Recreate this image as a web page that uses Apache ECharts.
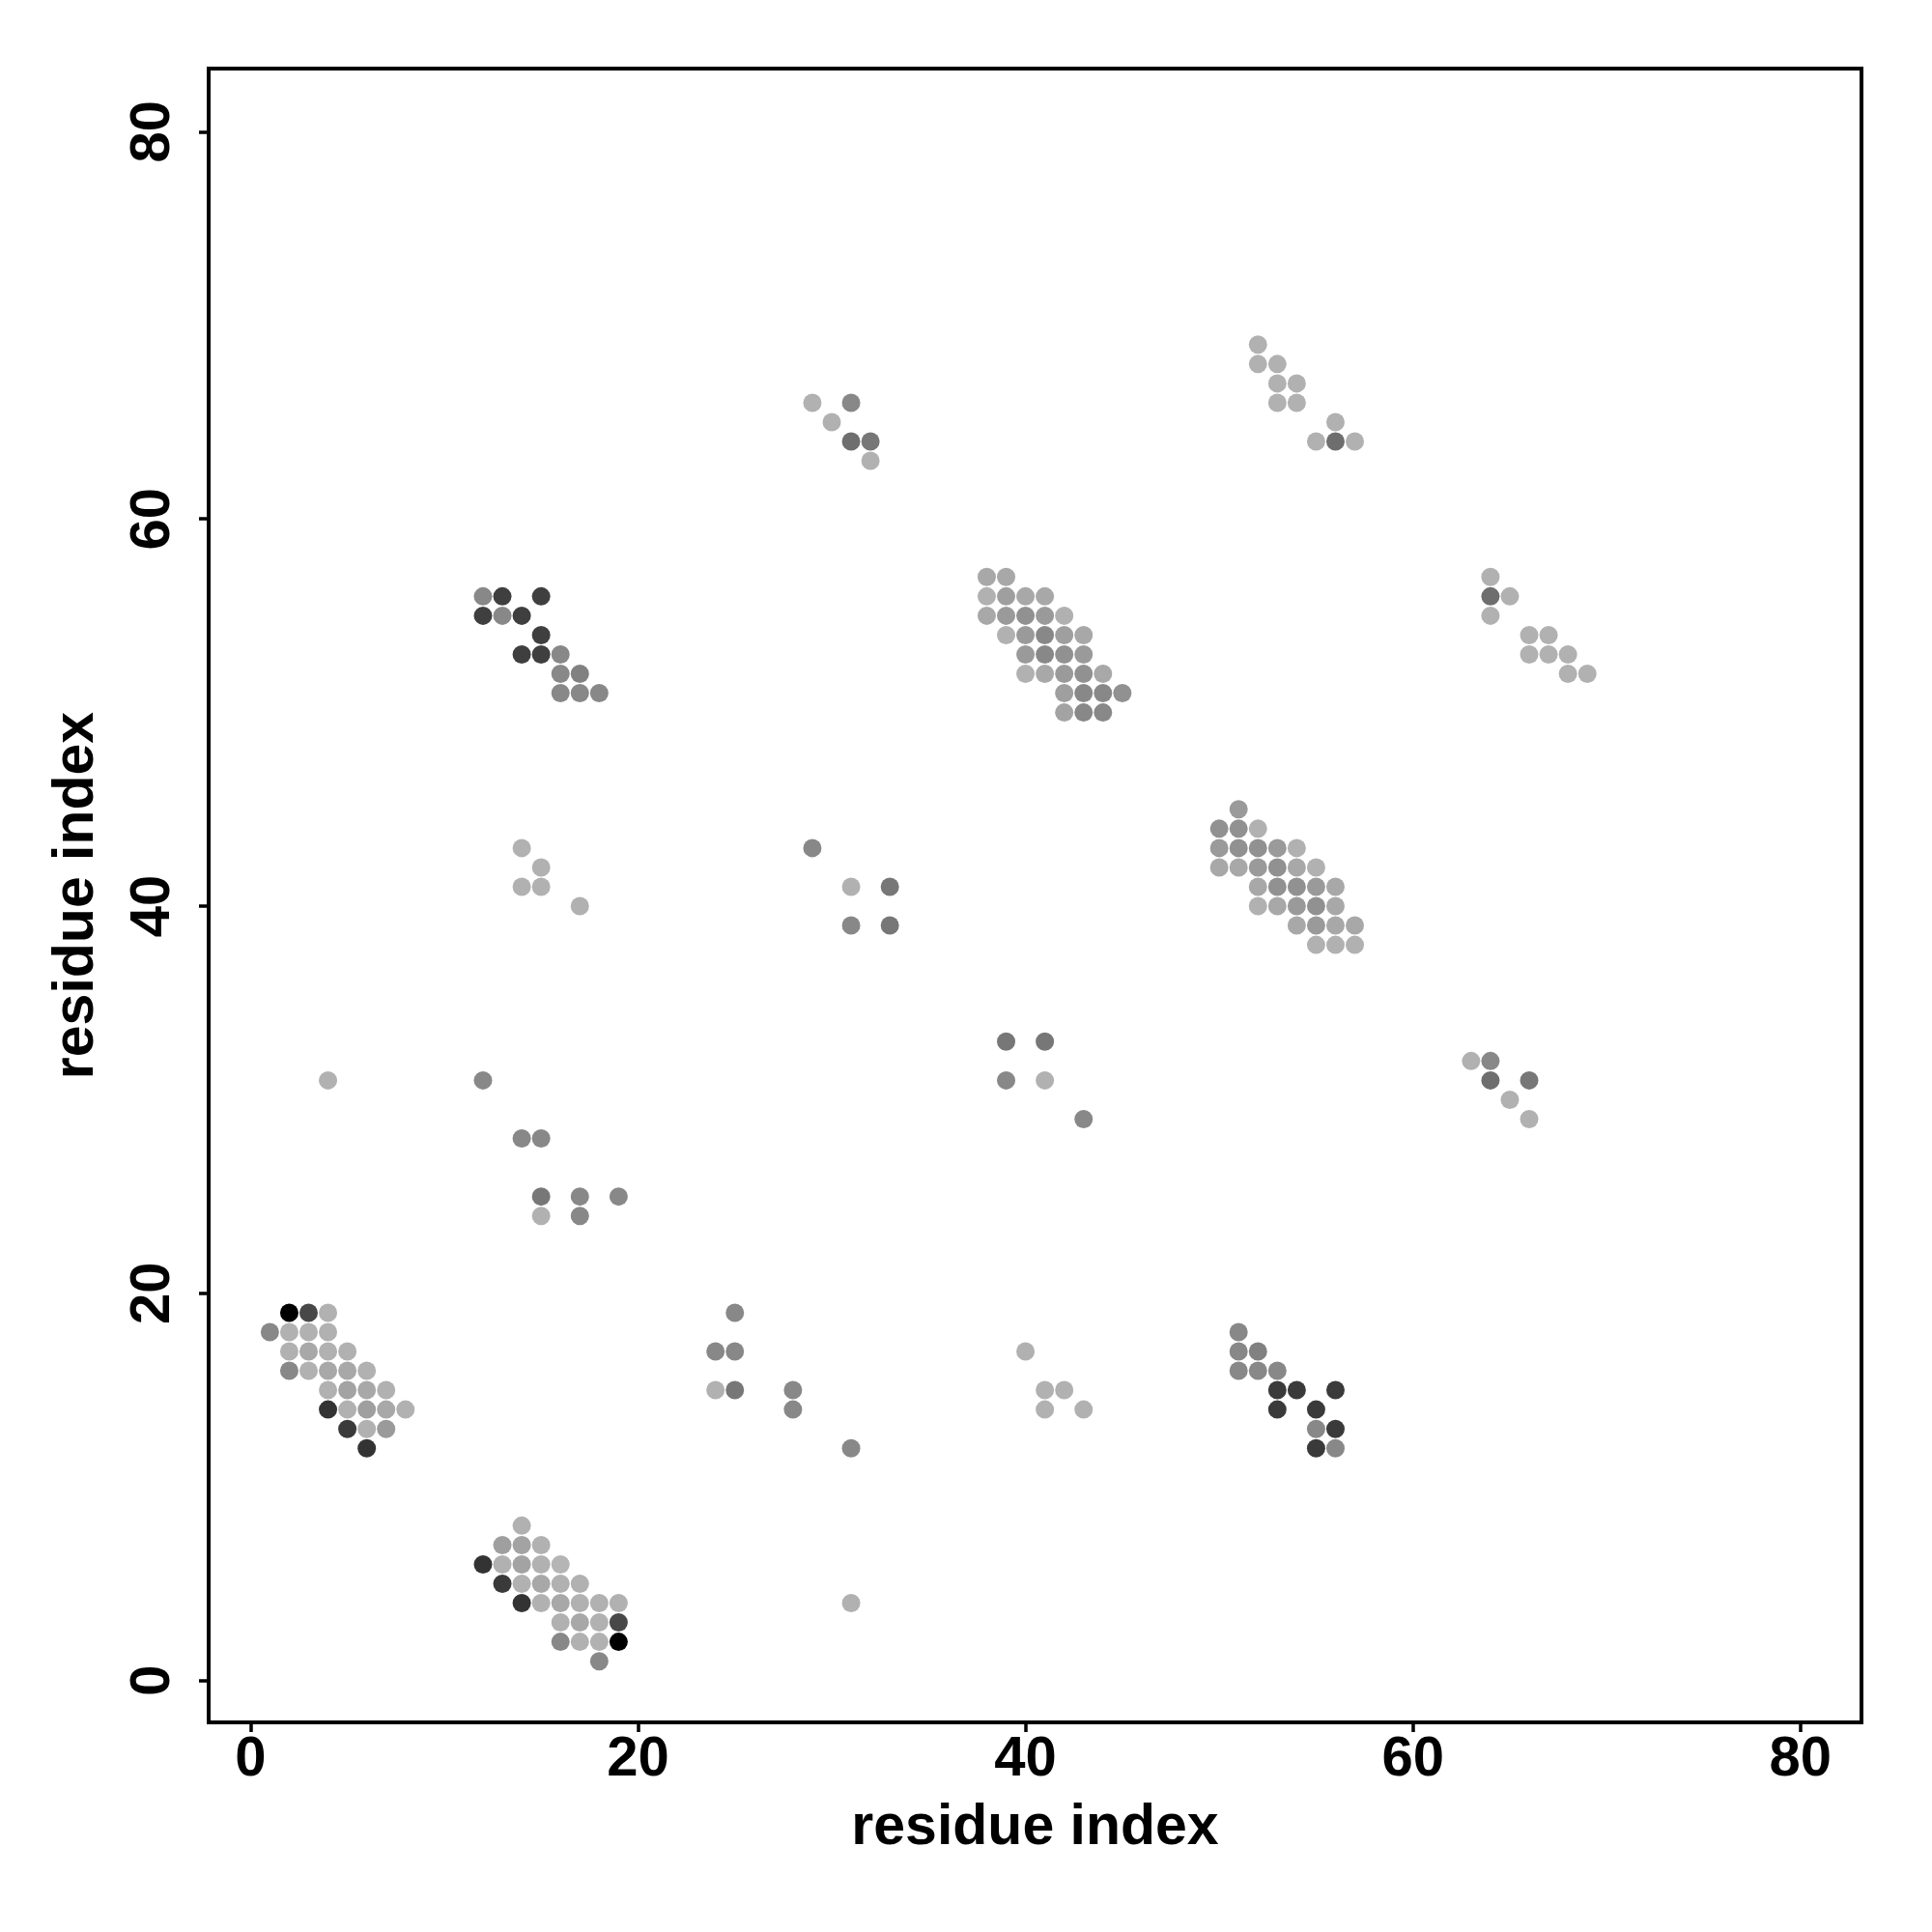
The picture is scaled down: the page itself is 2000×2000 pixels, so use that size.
<!DOCTYPE html>
<html>
<head>
<meta charset="utf-8">
<script src="https://cdn.jsdelivr.net/npm/echarts@6/dist/echarts.min.js"></script>
<style>html,body{margin:0;padding:0;background:#fff}#c{width:2000px;height:2000px}</style>
</head>
<body>
<div id="c"></div>
<script>
// Each point: [residue i, residue j, darkness 0 (light grey) .. 1 (black)]
const clusterA = [[2,19,1],[3,19,0.6],[4,19,0.02],[1,18,0.25],[2,18,0.02],[3,18,0.02],[4,18,0.02],
  [2,17,0.02],[3,17,0.07],[4,17,0.02],[5,17,0.02],[2,16,0.25],[3,16,0.02],[4,16,0.07],[5,16,0.07],[6,16,0.02],
  [4,15,0.02],[5,15,0.1],[6,15,0.07],[7,15,0.02],[4,14,0.72],[5,14,0.02],[6,14,0.12],[7,14,0.07],[8,14,0.02],
  [5,13,0.68],[6,13,0.02],[7,13,0.15],[6,12,0.72]];
const clusterB = [[14,8,0.02],[13,7,0.12],[14,7,0.1],[15,7,0.02],[12,6,0.72],[13,6,0.02],[14,6,0.1],[15,6,0.02],[16,6,0],
  [13,5,0.68],[14,5,0.02],[15,5,0.07],[16,5,0.02],[17,5,0.02],[14,4,0.72],[15,4,0.02],[16,4,0.07],[17,4,0.02],[18,4,0.02],[19,4,0.02],
  [16,3,0.02],[17,3,0.07],[18,3,0.02],[19,3,0.6],[16,2,0.25],[17,2,0.02],[18,2,0.02],[19,2,1],[18,1,0.25]];
const clusterC = [[25,19,0.25],[24,17,0.25],[25,17,0.25],[24,15,0.02],[25,15,0.34],[28,15,0.25],[28,14,0.25],[31,12,0.25],[31,4,0.02]];
const clusterD = [[40,17,0.02],[41,15,0.02],[42,15,0.02],[41,14,0.02],[43,14,0.02]];
const clusterE = [[51,18,0.25],[51,17,0.25],[52,17,0.29],[51,16,0.25],[52,16,0.25],[53,16,0.25],[53,15,0.68],[54,15,0.68],[56,15,0.68],
  [53,14,0.68],[55,14,0.68],[55,13,0.25],[56,13,0.68],[55,12,0.68],[56,12,0.25]];
const clusterF = [[4,31,0.02],[12,31,0.25],[14,28,0.25],[15,28,0.25],[15,25,0.34],[17,25,0.25],[19,25,0.25],[15,24,0.02],[17,24,0.25]];
const clusterG = [[39,33,0.34],[41,33,0.34],[39,31,0.25],[41,31,0.02],[43,29,0.25],[63,32,0.02],[64,32,0.25],[64,31,0.39],[66,31,0.34],[65,30,0.02],[66,29,0.02]];
const clusterH = [[14,43,0.02],[15,42,0.02],[14,41,0.02],[15,41,0.02],[17,40,0.02],[29,43,0.25],[31,41,0.02],[33,41,0.34],[31,39,0.25],[33,39,0.34]];
const clusterI = [[51,45,0.15],[50,44,0.2],[51,44,0.2],[52,44,0.02],[50,43,0.15],[51,43,0.2],[52,43,0.2],[53,43,0.15],[54,43,0.02],
  [50,42,0.07],[51,42,0.07],[52,42,0.15],[53,42,0.2],[54,42,0.07],[55,42,0.02],[52,41,0.07],[53,41,0.2],[54,41,0.2],[55,41,0.15],[56,41,0.07],
  [52,40,0.02],[53,40,0.07],[54,40,0.15],[55,40,0.2],[56,40,0.07],[54,39,0.07],[55,39,0.15],[56,39,0.07],[57,39,0.07],
  [55,38,0.02],[56,38,0.02],[57,38,0.02]];
const clusterJ = [[12,56,0.25],[13,56,0.65],[15,56,0.65],[12,55,0.65],[13,55,0.25],[14,55,0.65],[15,54,0.65],
  [14,53,0.65],[15,53,0.65],[16,53,0.25],[16,52,0.25],[17,52,0.29],[16,51,0.25],[17,51,0.25],[18,51,0.25]];
const clusterK = [[38,57,0.07],[39,57,0.07],[38,56,0.02],[39,56,0.12],[40,56,0.07],[41,56,0.07],
  [38,55,0.07],[39,55,0.15],[40,55,0.2],[41,55,0.15],[42,55,0.02],[39,54,0.02],[40,54,0.15],[41,54,0.25],[42,54,0.12],[43,54,0.07],
  [40,53,0.15],[41,53,0.25],[42,53,0.2],[43,53,0.15],[40,52,0.02],[41,52,0.07],[42,52,0.15],[43,52,0.2],[44,52,0.07],
  [42,51,0.12],[43,51,0.25],[44,51,0.25],[45,51,0.2],[42,50,0.1],[43,50,0.25],[44,50,0.25]];
const clusterL = [[64,57,0.02],[64,56,0.39],[65,56,0.02],[64,55,0.02],[66,54,0.02],[67,54,0.02],[66,53,0.02],[67,53,0.02],[68,53,0.02],[68,52,0.02],[69,52,0.02]];
const clusterM = [[29,66,0.02],[30,65,0.02],[31,66,0.25],[31,64,0.39],[32,64,0.34],[32,63,0.02]];
const clusterN = [[52,69,0.02],[52,68,0.02],[53,68,0.02],[53,67,0.02],[54,67,0.02],[53,66,0.02],[54,66,0.02],[56,65,0.02],[55,64,0.02],[56,64,0.39],[57,64,0.02]];

const tickValues = [0, 20, 40, 60, 80];
const axisTitle = 'residue index';

const allPoints = [].concat(clusterA, clusterB, clusterC, clusterD, clusterE, clusterF, clusterG,
  clusterH, clusterI, clusterJ, clusterK, clusterL, clusterM, clusterN);

const font = "'Liberation Sans', Arial, Helvetica, sans-serif";
const chart = echarts.init(document.getElementById('c'), null, {renderer: 'canvas'});
function axisCommon(extra) {
  return Object.assign({
    type: 'value',
    min: -2.16,
    max: 83.2,
    splitLine: {show: false},
    axisLine: {show: false, onZero: false},
    axisTick: {show: true, inside: false, length: 10, customValues: tickValues, lineStyle: {color: '#000', width: 3.5}},
    axisLabel: {show: true, customValues: tickValues, color: '#000', fontSize: 58, fontWeight: 'bold', fontFamily: font},
    name: axisTitle,
    nameLocation: 'middle',
    nameTextStyle: {color: '#000', fontSize: 59, fontWeight: 'bold', fontFamily: font}
  }, extra);
}
const option = {
  backgroundColor: '#fff',
  animation: false,
  grid: {left: 216, right: 73, top: 71, bottom: 217, show: true, borderColor: '#000', borderWidth: 4, backgroundColor: 'transparent'},
  xAxis: axisCommon({nameGap: 80, max: 83.15}),
  yAxis: axisCommon({nameGap: 107, max: 83.26}),
  visualMap: {show: false, type: 'continuous', dimension: 2, min: 0, max: 1, inRange: {color: ['#b5b5b5', '#000000']}},
  series: [{
    type: 'scatter',
    data: allPoints,
    symbol: 'circle',
    symbolSize: 19,
    itemStyle: {opacity: 1}
  }]
};
option.yAxis.axisLabel = Object.assign({}, option.yAxis.axisLabel, {rotate: 90, margin: 28});
option.xAxis.axisLabel = Object.assign({}, option.xAxis.axisLabel, {margin: 10});
chart.setOption(option);
</script>
</body>
</html>
